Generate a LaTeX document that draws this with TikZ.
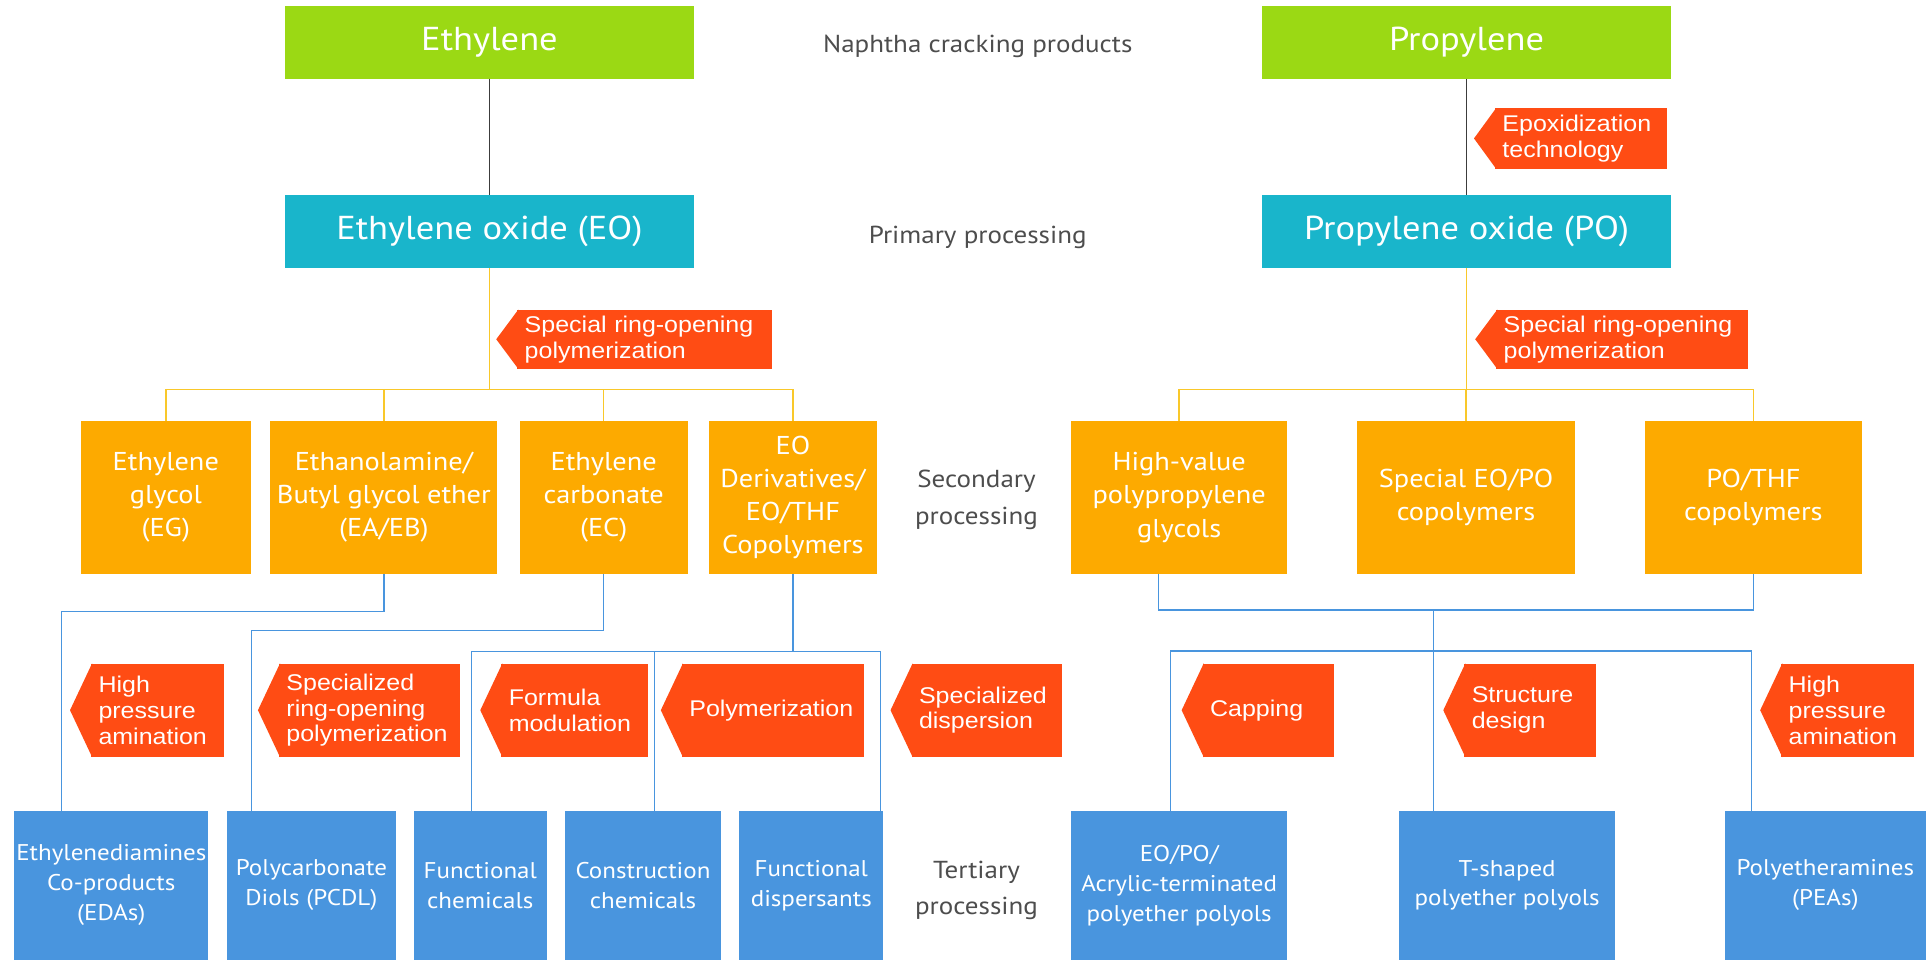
\documentclass[tikz,border=0pt]{standalone}
\usepackage{fontspec}
\setmainfont{PT Sans}[FakeStretch=1.1]
\newfontfamily\tagfont{Liberation Sans}[FakeStretch=1.1]
\usepackage{xcolor}
\usetikzlibrary{positioning}

\definecolor{ethgreen}{RGB}{155,217,20}
\definecolor{oxcyan}{RGB}{25,181,203}
\definecolor{secorange}{RGB}{253,170,0}
\definecolor{tagred}{RGB}{255,76,20}
\definecolor{terblue}{RGB}{73,149,222}
\definecolor{lineyellow}{RGB}{249,200,42}
\definecolor{linegray}{RGB}{60,60,60}
\definecolor{stagegray}{RGB}{77,77,77}

\begin{document}
\begin{tikzpicture}[
    x=1pt, y=-1pt,
    chembox/.style={rectangle, inner sep=0pt, text=white, align=center},
    topbox/.style={chembox, fill=ethgreen, minimum width=333pt, minimum height=59pt, font=\fontsize{27}{30}\selectfont},
    oxbox/.style={topbox, fill=oxcyan},
    secbox/.style={chembox, fill=secorange, minimum height=124pt, font=\fontsize{21}{27}\selectfont},
    terbox/.style={chembox, fill=terblue, minimum height=121.6pt, font=\fontsize{18.5}{24.4}\selectfont},
    stagetext/.style={text=stagegray, align=center, font=\fontsize{20}{29.8}\selectfont},
    techtag/.style={rectangle, fill=tagred, text=white, anchor=north west, inner xsep=6pt, inner ysep=0pt, align=left, font=\tagfont\fontsize{18.5}{21}\selectfont},
    yline/.style={draw=lineyellow, line width=1.2pt},
    bline/.style={draw=terblue, line width=1.2pt},
    gline/.style={draw=linegray, line width=1.2pt}
]
\useasboundingbox (0,0) rectangle (1568,781.6);

% Nodes
\node[topbox] (eth) at (398.5,34.5) {Ethylene};
\node[topbox] (pro) at (1194,34.5) {Propylene};
\node[oxbox] (eo) at (398.5,188.5) {Ethylene oxide (EO)};
\node[oxbox] (po) at (1194,188.5) {Propylene oxide (PO)};

\node[stagetext] (naphtha) at (796,38) {Naphtha cracking products};
\node[stagetext] (primary) at (796,193) {Primary processing};
\node[stagetext] (secondary) at (795,407) {Secondary\\processing};
\node[stagetext] (tertiary) at (795,725) {Tertiary\\processing};

\node[secbox, minimum width=138pt] (eg) at (135,405) {Ethylene\\glycol\\(EG)};
\node[secbox, minimum width=185pt] (eaeb) at (312.5,405) {Ethanolamine/\\Butyl glycol ether\\(EA/EB)};
\node[secbox, minimum width=137pt] (ec) at (491.5,405) {Ethylene\\carbonate\\(EC)};
\node[secbox, minimum width=137pt] (eoder) at (645.5,405) {EO\\Derivatives/\\EO/THF\\Copolymers};
\node[secbox, minimum width=176pt] (hv) at (960,405) {High-value\\polypropylene\\glycols};
\node[secbox, minimum width=177pt] (speo) at (1193.5,405) {Special EO/PO\\copolymers};
\node[secbox, minimum width=177pt] (pothf) at (1427.5,405) {PO/THF\\copolymers};

\node[terbox, minimum width=158pt] (eda) at (90.6,720.8) {Ethylenediamines\\Co-products\\(EDAs)};
\node[terbox, minimum width=137pt] (pcdl) at (253.5,720.8) {Polycarbonate\\Diols (PCDL)};
\node[terbox, minimum width=108pt] (fchem) at (391,720.8) {Functional\\chemicals};
\node[terbox, minimum width=127pt] (cchem) at (523.5,720.8) {Construction\\chemicals};
\node[terbox, minimum width=117pt] (fdisp) at (660.5,720.8) {Functional\\dispersants};
\node[terbox, minimum width=176pt] (eopo) at (960,720.8) {EO/PO/\\Acrylic-terminated\\polyether polyols};
\node[terbox, minimum width=176pt] (tsh) at (1227,720.8) {T-shaped\\polyether polyols};
\node[terbox, minimum width=164pt] (pea) at (1486,720.8) {Polyetheramines\\(PEAs)};

\node[techtag, text width=128pt, minimum height=49pt] (epox) at (1217,88) {Epoxidization\\technology};
\node[techtag, text width=195pt, minimum height=48pt] (ringA) at (421,252) {Special ring-opening\\polymerization};
\node[techtag, text width=193pt, minimum height=48pt] (ringB) at (1218,252) {Special ring-opening\\polymerization};
\node[techtag, text width=96pt, minimum height=76pt] (hpaA) at (74,540) {High\\pressure\\amination};
\node[techtag, text width=135pt, minimum height=76pt] (sro) at (227,540) {Specialized\\ring-opening\\polymerization};
\node[techtag, text width=107pt, minimum height=76pt] (fmod) at (408,540) {Formula\\modulation};
\node[techtag, text width=136pt, minimum height=76pt] (poly) at (555,540) {Polymerization};
\node[techtag, text width=110pt, minimum height=76pt] (sdisp) at (742,540) {Specialized\\dispersion};
\node[techtag, text width=95pt, minimum height=76pt] (cap) at (979,540) {Capping};
\node[techtag, text width=95pt, minimum height=76pt] (sdes) at (1192,540) {Structure\\design};
\node[techtag, text width=96pt, minimum height=76pt] (hpaB) at (1450,540) {High\\pressure\\amination};

% tag tips
\foreach \t in {epox,ringA,ringB,hpaA,sro,fmod,poly,sdisp,cap,sdes,hpaB}
    \fill[tagred] ([xshift=1pt]\t.north west) -- ([xshift=-17pt]\t.west) -- ([xshift=1pt]\t.south west) -- cycle;

% Lines
\coordinate (ybar) at (0,317);
\coordinate (edaIn) at (50,660);
\coordinate (pcdlIn) at (204.6,660);
\coordinate (fchemIn) at (384,660);
\coordinate (cchemIn) at (533,660);
\coordinate (fdispIn) at (717,660);
\coordinate (eopoIn) at (953,660);
\coordinate (tshIn) at (1167,660);
\coordinate (peaIn) at (1426,660);

\draw[gline] (eth) -- (eo);
\draw[gline] (pro) -- (po);

\draw[yline] (eo) -- (eo |- ybar);
\draw[yline] (eg.north) -- (eg.north |- ybar) -| (eoder.north);
\draw[yline] (eaeb.north) -- (eaeb.north |- ybar);
\draw[yline] (ec.north) -- (ec.north |- ybar);
\draw[yline] (po) -- (po |- ybar);
\draw[yline] (hv.north) -- (hv.north |- ybar) -| (pothf.north);
\draw[yline] (speo.north) -- (speo.north |- ybar);

\draw[bline] (eaeb.south) -- ++(0,30.5) -| (edaIn);
\draw[bline] (ec.south) -- ++(0,46) -| (pcdlIn);
\draw[bline] (eoder.south) -- ++(0,63) coordinate (ljoin);
\draw[bline] (fchemIn) |- (ljoin) -| (fdispIn);
\draw[bline] (cchemIn) -- (cchemIn |- ljoin);

\draw[bline] ([xshift=-17pt]hv.south) -- ++(0,29.5) coordinate (rbar) -| (pothf.south);
\draw[bline] (tshIn) -- (tshIn |- rbar);
\coordinate (rjoin) at (1167,530);
\draw[bline] (eopoIn) |- (rjoin) -| (peaIn);

\end{tikzpicture}
\end{document}
